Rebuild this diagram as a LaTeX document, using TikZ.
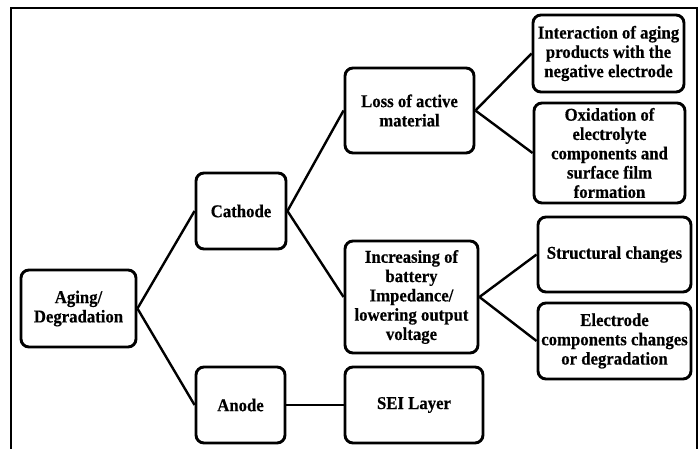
\documentclass[tikz,border=0pt]{standalone}
\usepackage{fontspec}
\setmainfont{Liberation Serif}
\newfontfamily\boxfont[FakeStretch=0.93,FakeBold=0.4]{Liberation Serif Bold}
\begin{document}
\begin{tikzpicture}[x=1pt,y=-1pt,
  box/.style={draw, line width=2.9pt, rounded corners=8pt, align=center, inner sep=1pt,
    font=\boxfont\fontsize{18}{19.3}\selectfont},
  link/.style={line width=2.4pt}]
\useasboundingbox (0,0) rectangle (700,448);
\draw[line width=2pt] (11,449) -- (11,8) -- (696.5,8) -- (696.5,449);
\node[box, minimum width=115pt, minimum height=77pt] (agg) at (78.5,308.5) {Aging/\\Degradation};
\node[box, minimum width=90pt, minimum height=76pt] (cat) at (241,211) {Cathode};
\node[box, minimum width=89pt, minimum height=76pt] (ano) at (240.5,405) {Anode};
\node[box, minimum width=129pt, minimum height=85pt] (loss) at (409.5,110.5) {Loss of active\\material};
\node[box, minimum width=133pt, minimum height=112pt] (inc) at (411.5,297) {Increasing of\\battery\\Impedance/\\lowering output\\voltage};
\node[box, minimum width=138pt, minimum height=76pt] (sei) at (414,405) {SEI Layer};
\node[box, minimum width=151pt, minimum height=77pt] (int) at (608.5,53.5) {Interaction of aging\\products with the\\negative electrode};
\node[box, minimum width=151pt, minimum height=100pt] (oxi) at (609.5,153) {Oxidation of\\electrolyte\\components and\\surface film\\formation};
\node[box, minimum width=153pt, minimum height=75pt] (str) at (614.5,254.5) {Structural changes};
\node[box, minimum width=153pt, minimum height=76pt] (ele) at (614.5,341) {Electrode\\components changes\\or degradation};
\draw[link] (agg.east) -- (cat.west);
\draw[link] (agg.east) -- (ano.west);
\draw[link] (cat.east) -- (loss.west);
\draw[link] (cat.east) -- (inc.west);
\draw[link] (ano.east) -- (sei.west);
\draw[link] (loss.east) -- (int.west);
\draw[link] (loss.east) -- (oxi.west);
\draw[link] (inc.east) -- (str.west);
\draw[link] (inc.east) -- (ele.west);
\end{tikzpicture}
\end{document}
